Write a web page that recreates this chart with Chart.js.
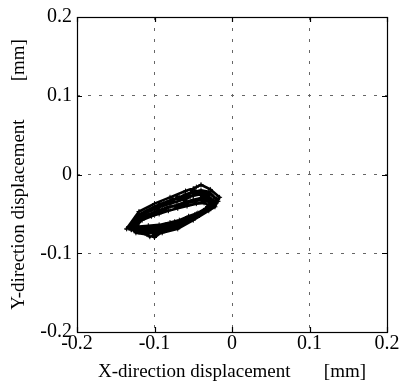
<!DOCTYPE html>
<html>
<head>
<meta charset="utf-8">
<script src="https://cdn.jsdelivr.net/npm/chart.js@4/dist/chart.umd.min.js"></script>
<style>
  html, body { margin: 0; padding: 0; background: #fff; }
  #wrap { width: 401px; height: 387px; }
</style>
</head>
<body>
<div id="wrap"><canvas id="orbit" width="401" height="387"></canvas></div>
<script>
// axis ticks
const xTicks = [-0.2, -0.1, 0, 0.1, 0.2];
const yTicks = [-0.2, -0.1, 0, 0.1, 0.2];

const loop1 = [[-0.136,-0.069],[-0.120,-0.047],[-0.100,-0.037],[-0.080,-0.029],[-0.060,-0.021],[-0.046,-0.016],[-0.040,-0.013],[-0.028,-0.019],[-0.016,-0.029],[-0.022,-0.041],[-0.030,-0.046],[-0.050,-0.058],[-0.070,-0.069],[-0.090,-0.074],[-0.106,-0.079],[-0.110,-0.076],[-0.124,-0.074]];
const loop2 = [[-0.132,-0.067],[-0.122,-0.052],[-0.110,-0.046],[-0.100,-0.041],[-0.088,-0.036],[-0.080,-0.033],[-0.068,-0.029],[-0.060,-0.025],[-0.048,-0.022],[-0.040,-0.020],[-0.030,-0.022],[-0.020,-0.031],[-0.026,-0.040],[-0.034,-0.045],[-0.050,-0.056],[-0.062,-0.062],[-0.072,-0.067],[-0.090,-0.072],[-0.102,-0.074],[-0.112,-0.075],[-0.126,-0.070]];
const loop3 = [[-0.130,-0.066],[-0.120,-0.054],[-0.108,-0.047],[-0.100,-0.044],[-0.090,-0.040],[-0.080,-0.037],[-0.070,-0.034],[-0.060,-0.030],[-0.050,-0.027],[-0.040,-0.025],[-0.032,-0.026],[-0.024,-0.033],[-0.028,-0.041],[-0.038,-0.047],[-0.050,-0.054],[-0.060,-0.058],[-0.072,-0.064],[-0.086,-0.069],[-0.098,-0.071],[-0.112,-0.072],[-0.124,-0.069]];
const loop4 = [[-0.128,-0.065],[-0.118,-0.056],[-0.106,-0.050],[-0.096,-0.046],[-0.084,-0.042],[-0.072,-0.039],[-0.060,-0.035],[-0.050,-0.032],[-0.040,-0.030],[-0.030,-0.031],[-0.027,-0.037],[-0.034,-0.043],[-0.046,-0.050],[-0.058,-0.056],[-0.070,-0.061],[-0.084,-0.066],[-0.096,-0.068],[-0.110,-0.069],[-0.122,-0.067]];
const loop5 = [[-0.126,-0.064],[-0.116,-0.058],[-0.104,-0.053],[-0.094,-0.050],[-0.082,-0.046],[-0.070,-0.043],[-0.058,-0.040],[-0.046,-0.037],[-0.036,-0.036],[-0.030,-0.039],[-0.034,-0.044],[-0.044,-0.049],[-0.056,-0.053],[-0.068,-0.058],[-0.080,-0.061],[-0.094,-0.064],[-0.108,-0.065],[-0.120,-0.066]];
const loop6 = [[-0.134,-0.068],[-0.124,-0.059],[-0.114,-0.049],[-0.104,-0.045],[-0.094,-0.038],[-0.084,-0.035],[-0.076,-0.031],[-0.066,-0.032],[-0.056,-0.026],[-0.050,-0.018],[-0.044,-0.024],[-0.034,-0.023],[-0.026,-0.026],[-0.018,-0.034],[-0.024,-0.038],[-0.030,-0.044],[-0.042,-0.052],[-0.054,-0.055],[-0.064,-0.063],[-0.078,-0.066],[-0.088,-0.071],[-0.100,-0.080],[-0.104,-0.072],[-0.116,-0.071],[-0.132,-0.068]];
const loop7 = [[-0.130,-0.070],[-0.122,-0.060],[-0.116,-0.052],[-0.106,-0.044],[-0.096,-0.043],[-0.088,-0.038],[-0.078,-0.035],[-0.070,-0.028],[-0.062,-0.033],[-0.054,-0.028],[-0.046,-0.023],[-0.038,-0.028],[-0.030,-0.029],[-0.022,-0.036],[-0.028,-0.043],[-0.040,-0.049],[-0.052,-0.057],[-0.066,-0.060],[-0.076,-0.068],[-0.088,-0.066],[-0.096,-0.075],[-0.108,-0.070],[-0.120,-0.073],[-0.130,-0.070]];
const loop8 = [[-0.124,-0.066],[-0.114,-0.055],[-0.102,-0.049],[-0.092,-0.047],[-0.080,-0.041],[-0.068,-0.040],[-0.056,-0.036],[-0.044,-0.033],[-0.034,-0.033],[-0.028,-0.036],[-0.036,-0.046],[-0.048,-0.051],[-0.060,-0.056],[-0.074,-0.060],[-0.086,-0.064],[-0.098,-0.066],[-0.110,-0.068],[-0.124,-0.066]];

const orbitPts = [...loop1, ...loop2, ...loop3, ...loop4, ...loop5, ...loop6, ...loop7, ...loop8].map(p => ({ x: p[0], y: p[1] }));

const serif = "'Liberation Serif', 'DejaVu Serif', serif";

function fmtTick(v) {
  if (Math.abs(v) < 1e-9) return "0";
  return v.toFixed(1);
}

// solid frame and short inward ticks
const framePlugin = {
  id: "frame",
  afterDraw(chart) {
    const { ctx, chartArea: a, scales } = chart;
    ctx.save();
    ctx.strokeStyle = "#000";
    ctx.lineWidth = 1.2;
    ctx.strokeRect(a.left + 0.5, a.top + 0.5, a.right - a.left, a.bottom - a.top);
    ctx.beginPath();
    xTicks.forEach(v => {
      const px = Math.round(scales.x.getPixelForValue(v)) + 0.5;
      ctx.moveTo(px, a.bottom); ctx.lineTo(px, a.bottom - 5);
      ctx.moveTo(px, a.top); ctx.lineTo(px, a.top + 5);
    });
    yTicks.forEach(v => {
      const py = Math.round(scales.y.getPixelForValue(v)) + 0.5;
      ctx.moveTo(a.left, py); ctx.lineTo(a.left + 5, py);
      ctx.moveTo(a.right, py); ctx.lineTo(a.right - 5, py);
    });
    ctx.stroke();
    ctx.restore();
  }
};

new Chart(document.getElementById("orbit"), {
  type: "scatter",
  data: {
    datasets: [{
      data: orbitPts,
      showLine: true,
      borderColor: "#000",
      borderWidth: 2.6,
      pointStyle: "cross",
      pointRadius: 2.5,
      pointBorderColor: "#000",
      pointBorderWidth: 1,
      tension: 0
    }]
  },
  options: {
    responsive: false,
    animation: false,
    layout: { padding: { top: 14, right: 14, left: 0, bottom: 0 } },
    plugins: { legend: { display: false }, tooltip: { enabled: false } },
    scales: {
      x: {
        type: "linear",
        min: -0.2, max: 0.2,
        afterBuildTicks: s => { s.ticks = xTicks.map(v => ({ value: v })); },
        afterFit: s => { s.height = 55; },
        grid: { color: "#666", lineWidth: 1, drawTicks: false },
        border: { display: false, dash: [3, 8] },
        ticks: { color: "#000", font: { family: serif, size: 20 }, padding: 0, maxRotation: 0, callback: v => fmtTick(v) },
        title: { display: true, text: "X-direction displacement       [mm]", color: "#000", font: { family: serif, size: 19 }, padding: { top: 0, bottom: 4 } }
      },
      y: {
        type: "linear",
        min: -0.2, max: 0.2,
        afterBuildTicks: s => { s.ticks = yTicks.map(v => ({ value: v })); },
        afterFit: s => { s.width = 77; },
        grid: { color: "#666", lineWidth: 1, drawTicks: false },
        border: { display: false, dash: [3, 8] },
        ticks: { color: "#000", font: { family: serif, size: 20 }, padding: 5, callback: v => fmtTick(v) },
        title: { display: true, text: "Y-direction displacement        [mm]", color: "#000", font: { family: serif, size: 19 }, padding: { top: 8, bottom: 0 } }
      }
    }
  },
  plugins: [framePlugin]
});
</script>
</body>
</html>
